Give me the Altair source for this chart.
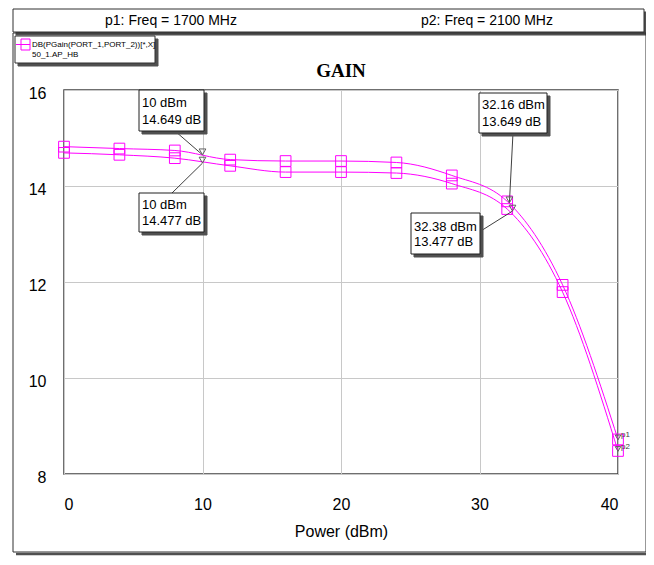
import altair as alt
import pandas as pd

# ---- data ----
power = [0, 4, 8, 12, 16, 20, 24, 28, 32, 36, 40]
gain_p1 = [14.82, 14.78, 14.74, 14.55, 14.52, 14.52, 14.49, 14.22, 13.68, 11.94, 8.72]
gain_p2 = [14.69, 14.65, 14.58, 14.42, 14.29, 14.29, 14.27, 14.05, 13.52, 11.79, 8.48]

marker_power = [10, 10, 32.16, 32.38]
marker_gain = [14.649, 14.477, 13.649, 13.477]

header_labels = ["p1: Freq = 1700 MHz", "p2: Freq = 2100 MHz"]
legend_lines = ["DB(PGain(PORT_1,PORT_2))[*,X]", "50_1.AP_HB"]
x_ticks = [0, 10, 20, 30, 40]
y_ticks = [8, 10, 12, 14, 16]

MAG = "#FF00FF"
FONT = "Liberation Sans"

df = pd.DataFrame({
    "power": power * 2,
    "gain": gain_p1 + gain_p2,
    "series": ["p1"] * len(power) + ["p2"] * len(power),
})

xs = alt.Scale(domain=[0, 40], nice=False, zero=False)
ys = alt.Scale(domain=[8, 16], nice=False, zero=False)

xaxis = alt.Axis(values=x_ticks, format="d", grid=True, gridColor="#c8c8c8", ticks=False,
                 domain=False, labelFont=FONT, labelFontSize=16, labelColor="black",
                 labelPadding=22, title="Power (dBm)", titleFont=FONT, titleFontSize=16,
                 titleFontWeight="normal", titleColor="black", titlePadding=11)
yaxis = alt.Axis(values=y_ticks, format="d", grid=True, gridColor="#c8c8c8", ticks=False,
                 domain=False, labelFont=FONT, labelFontSize=16, labelColor="black",
                 labelPadding=18, labelOffset=3, title=None)

base = alt.Chart(df).encode(
    x=alt.X("power:Q", scale=xs, axis=xaxis),
    y=alt.Y("gain:Q", scale=ys, axis=yaxis),
    detail="series:N",
)
lines = base.mark_line(interpolate="monotone", color=MAG, strokeWidth=1)
squares = base.mark_point(shape="square", size=115, filled=False, color=MAG,
                          strokeWidth=1, opacity=1)

layers = []


def rect(x0, y0, x1, y1, fill="white", stroke="#303030", sw=1):
    return alt.Chart(pd.DataFrame({"a": [0]})).mark_rect(
        fill=fill, stroke=stroke, strokeWidth=sw).encode(
        x=alt.value(x0), x2=alt.value(x1), y=alt.value(y0), y2=alt.value(y1))


def text(x, y, s, size=14, font=FONT, weight="normal", align="left", baseline="middle", color="black"):
    return alt.Chart(pd.DataFrame({"a": [0]})).mark_text(
        font=font, fontSize=size, fontWeight=weight, align=align, baseline=baseline,
        color=color).encode(x=alt.value(x), y=alt.value(y), text=alt.value(s))


def hline(x0, x1, y, color, sw):
    return alt.Chart(pd.DataFrame({"a": [0]})).mark_rule(color=color, strokeWidth=sw).encode(
        x=alt.value(x0), x2=alt.value(x1), y=alt.value(y), y2=alt.value(y))


def vline(x, y0, y1, color, sw):
    return alt.Chart(pd.DataFrame({"a": [0]})).mark_rule(color=color, strokeWidth=sw).encode(
        x=alt.value(x), x2=alt.value(x), y=alt.value(y0), y2=alt.value(y1))


# header box
layers.append(rect(-48, -78, 583, -55, fill="#505050", stroke="#505050"))
layers.append(rect(-51, -81, 580, -58))
layers.append(text(107, -69, header_labels[0], size=14, align="center"))
layers.append(text(423, -69, header_labels[1], size=14, align="center"))

# main frame
layers.append(rect(-51, -57, 582, 462, fill="transparent"))
layers.append(vline(584, -54, 465, "#505050", 2.5))
layers.append(hline(-48, 585, 464, "#505050", 2.5))

# legend box
layers.append(rect(-46, -51, 94, -24, fill="#505050", stroke="#505050"))
layers.append(rect(-49, -54, 91, -27))
layers.append(rect(-43, -51, -34, -40, fill="transparent", stroke=MAG))
layers.append(hline(-48, -34, -45.5, MAG, 1))
layers.append(text(-32, -45, legend_lines[0], size=8))
layers.append(text(-32, -35, legend_lines[1], size=8))

# title
layers.append(text(277, -13, "GAIN", size=19, font="Liberation Serif", weight="bold",
                   align="center", baseline="alphabetic"))

# annotations: (box x0, y0, x1, y1), (text x, line1 y, line2 y), leader start
ann_boxes = [
    ((75, 0, 140, 41), (78, 13, 30), (111, 41)),
    ((75, 103, 140, 142), (78, 115, 131), (108, 103)),
    ((415, 3, 483, 43), (418, 15, 31.5), (449, 43)),
    ((347, 123, 416, 164), (350, 136.5, 152), (416, 141.5)),
]

mk = pd.DataFrame({"power": marker_power, "gain": marker_gain})
for i, ((bx0, by0, bx1, by1), (tx, t1, t2), (lx, ly)) in enumerate(ann_boxes):
    row = mk.iloc[[i]]
    layers.append(alt.Chart(row).mark_rule(color="#404040", strokeWidth=1).encode(
        x=alt.X("power:Q", scale=xs), y=alt.Y("gain:Q", scale=ys),
        x2=alt.value(lx), y2=alt.value(ly)))

for i, ((bx0, by0, bx1, by1), (tx, t1, t2), (lx, ly)) in enumerate(ann_boxes):
    p, g = marker_power[i], marker_gain[i]
    ps = f"{p:g} dBm"
    gs = f"{g:.3f} dB"
    layers.append(rect(bx0 + 3, by0 + 3, bx1 + 3, by1 + 3, fill="#505050", stroke="#505050"))
    layers.append(rect(bx0, by0, bx1, by1, stroke="#202020"))
    layers.append(text(tx, t1, ps, size=13))
    layers.append(text(tx, t2, gs, size=13))

tri = alt.Chart(mk).mark_point(shape="triangle-down", size=45, filled=False,
                               color="#606060", strokeWidth=1, opacity=1, yOffset=-3).encode(
    x=alt.X("power:Q", scale=xs), y=alt.Y("gain:Q", scale=ys))

end_df = pd.DataFrame({"power": [power[-1], power[-1]],
                       "gain": [gain_p1[-1], gain_p2[-1]],
                       "lab": ["p1", "p2"]})
end_tri = alt.Chart(end_df).mark_point(shape="triangle-down", size=30, filled=False,
                                       color="#606060", strokeWidth=1, opacity=1, yOffset=-2).encode(
    x=alt.X("power:Q", scale=xs), y=alt.Y("gain:Q", scale=ys))
end_txt = alt.Chart(end_df).mark_text(font=FONT, fontSize=8, color="#404040", align="left",
                                      dx=3, dy=-4).encode(
    x=alt.X("power:Q", scale=xs), y=alt.Y("gain:Q", scale=ys), text="lab:N")

chart = alt.layer(lines, squares, *layers, tri, end_tri, end_txt).properties(
    width=554, height=384,
    padding={"left": 56, "top": 82, "right": 28, "bottom": 83},
    autosize=alt.AutoSizeParams(type="none"),
    background="white",
).configure_view(stroke="#404040", strokeWidth=1.5)

chart.save("out.html", embed_options={"renderer": "svg", "actions": False})
